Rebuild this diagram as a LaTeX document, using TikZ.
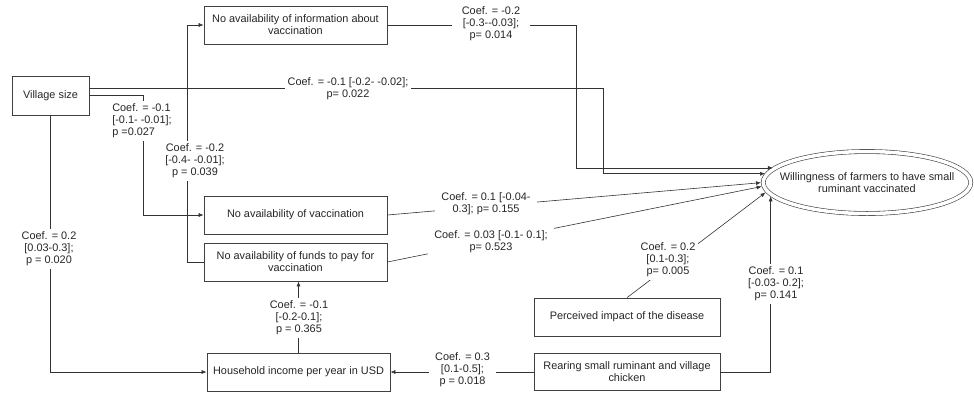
\documentclass[tikz,border=0pt]{standalone}
\usepackage{fontspec}
\setmainfont{Liberation Sans}
\usetikzlibrary{arrows.meta,shapes.geometric}
\begin{document}
\begin{tikzpicture}[x=1pt,y=-1pt,
  font=\fontsize{10.9}{12}\selectfont,
  box/.style={draw=black!75, line width=0.7pt, align=center, inner sep=2pt, text=black!85},
  lbl/.style={fill=white, align=center, inner sep=3pt, text=black!85},
  conn/.style={draw=black!80, line width=0.6pt},
  arr/.style={conn, -{Latex[length=5pt,width=4pt]}},
  toell/.style={arr, shorten >=2pt}]
\useasboundingbox (0,0) rectangle (974,392);
% boxes
\node[box, minimum width=77pt, minimum height=39pt] (village) at (50.5,95.5) {Village size};
\node[box, minimum width=183pt, minimum height=38pt] (info) at (295.5,25) {No availability of information about\\vaccination};
\node[box, minimum width=183pt, minimum height=38pt] (novacc) at (295.5,215) {No availability of vaccination};
\node[box, minimum width=183pt, minimum height=38pt] (funds) at (295.5,262) {No availability of funds to pay for\\vaccination};
\node[box, minimum width=183pt, minimum height=38pt] (house) at (298.5,372) {Household income per year in USD};
\node[box, minimum width=186pt, minimum height=38pt] (perc) at (627,317) {Perceived impact of the disease};
\node[box, minimum width=186pt, minimum height=37pt] (rear) at (627,372) {Rearing small ruminant and village\\chicken};
\node[draw=black!75, ellipse, double, double distance=3.5pt, line width=0.6pt, minimum width=207.5pt, minimum height=62pt, inner sep=0pt] (will) at (867,182.5) {};
\node[align=center, text=black!85] (willtext) at (will.center) {Willingness of farmers to have small\\ruminant vaccinated};
% connectors
\draw[toell] (info.east) -- ++(189,0) |- (will.171);
\draw[toell] ([yshift=7.5pt]village.east) -- ++(514,0) |- (will.175);
\draw[arr] (village.east) -- ++(54,0) |- (novacc.west);
\draw[arr] (funds.west) -- ++(-16,0) |- (info.west);
\draw[arr] (village.south) |- (house.west);
\draw[arr] (house.north) -- (house.north |- funds.south);
\draw[arr] (rear.west) -- (house.east);
\draw[toell] (rear.east) -| (will.187);
\draw[toell] (perc.north) -- (will.185);
\draw[toell] (novacc.east) -- (will.180);
\draw[toell] (funds.east) -- (will.182);
% labels
\node[lbl, inner xsep=10pt] (l1) at (491,24) {Coef. = -0.2\\{}[-0.3-{}-0.03];\\p= 0.014};
\node[lbl] (l2) at (348,89) {Coef. = -0.1 [-0.2- -0.02];\\p= 0.022};
\node[lbl, align=left] (l3) at (142,121) {Coef. = -0.1\\{}[-0.1- -0.01];\\p =0.027};
\node[lbl] (l4) at (195,161) {Coef. = -0.2\\{}[-0.4- -0.01];\\p = 0.039};
\node[lbl] (l5) at (49,249) {Coef. = 0.2\\{}[0.03-0.3];\\p = 0.020};
\node[lbl] (l6) at (299,318) {Coef. = -0.1\\{}[-0.2-0.1];\\p = 0.365};
\node[lbl, inner xsep=6pt] (l7) at (462.5,370) {Coef. = 0.3\\{}[0.1-0.5];\\p = 0.018};
\node[lbl] (l8) at (776,284) {Coef. = 0.1\\{}[-0.03- 0.2];\\p= 0.141};
\node[lbl] (l9) at (668,260) {Coef. = 0.2\\{}[0.1-0.3];\\p= 0.005};
\node[lbl, inner xsep=6pt] (l10) at (486,204) {Coef. = 0.1 [-0.04-\\0.3]; p= 0.155};
\node[lbl, inner xsep=6pt] (l11) at (491,242) {Coef. = 0.03 [-0.1- 0.1];\\p= 0.523};
\end{tikzpicture}
\end{document}
